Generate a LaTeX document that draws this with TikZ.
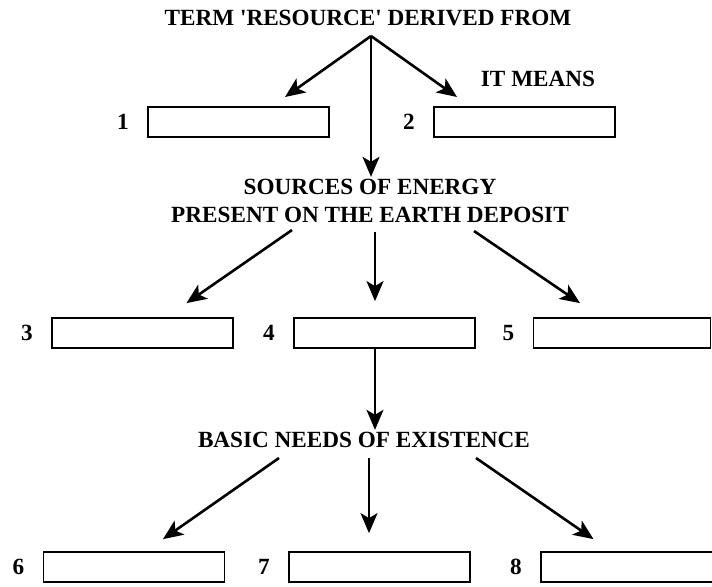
\documentclass[tikz,border=0pt]{standalone}
\usepackage{fontspec}
\setmainfont{Liberation Serif}
\usetikzlibrary{arrows.meta,positioning}

\begin{document}
\begin{tikzpicture}[x=0.5pt, y=-0.5pt,
  lbl/.style={font=\bfseries\fontsize{11.6}{14}\selectfont, align=center, inner sep=1pt},
  blank/.style={draw, line width=0.9pt, minimum width=90.5pt, minimum height=15pt,
                inner sep=0pt},
  num/.style={font=\bfseries\fontsize{11.6}{14}\selectfont, inner sep=0pt},
  arr/.style={-{Stealth[length=10pt, width=8.5pt, inset=2.5pt]}, line width=1.3pt},
  varr/.style={arr, line width=0.9pt}
]
\useasboundingbox (0,0) rectangle (712,586);

%% Top level
\node[lbl] (term)  at (368,18)  {TERM \textquotesingle RESOURCE\textquotesingle\ DERIVED FROM};
\node[lbl] (means) at (538,79)  {IT MEANS};
\coordinate (apex) at (371,36);

\node[blank] (box1) at (238.5,122) {};
\node[blank] (box2) at (524.5,122) {};
\node[num, left=9pt of box1] (n1) {1};
\node[num, left=9pt of box2] (n2) {2};

\coordinate (tip1) at (285,97);
\coordinate (tip2) at (457,97);
\draw[arr] (apex) -- (tip1);
\draw[arr] (apex) -- (tip2);

%% Sources of energy
\node[lbl] (src) at (370,201) {SOURCES OF ENERGY\\PRESENT ON THE EARTH DEPOSIT};
\draw[varr] (apex) -- (src.north -| apex);

\coordinate (s1) at (292,230);
\coordinate (s2) at (375,232);
\coordinate (s3) at (474,231);
\node[blank] (box3) at (142.5,333) {};
\node[blank] (box4) at (384.5,333) {};
\node[blank, minimum width=88.5pt] (box5) at (622,333) {};
\node[num, left=9pt of box3] (n3) {3};
\node[num, left=9pt of box4] (n4) {4};
\node[num, left=9pt of box5] (n5) {5};

\draw[arr]  (s1) -- ([xshift=22pt,yshift=7pt]box3.north);
\draw[varr] (s2) -- ([xshift=-4.75pt,yshift=8pt]box4.north);
\draw[arr]  (s3) -- ([xshift=-21pt,yshift=7pt]box5.north);

%% Basic needs
\node[lbl] (needs) at (364,440) {BASIC NEEDS OF EXISTENCE};
\draw[varr] ([xshift=-4.75pt]box4.south) -- ([xshift=-4.75pt]box4.south |- needs.north);

\coordinate (b1) at (279,458);
\coordinate (b2) at (369,458);
\coordinate (b3) at (476,458);
\node[blank] (box6) at (134,567) {};
\node[blank] (box7) at (379.5,567) {};
\node[blank] (box8) at (631.5,567) {};
\node[num, left=9pt of box6] (n6) {6};
\node[num, left=9pt of box7] (n7) {7};
\node[num, left=9pt of box8] (n8) {8};

\draw[arr]  (b1) -- ([xshift=14.5pt,yshift=6pt]box6.north);
\draw[varr] (b2) -- ([xshift=-5.25pt,yshift=9pt]box7.north);
\draw[arr]  (b3) -- ([xshift=-19pt,yshift=6pt]box8.north);
\end{tikzpicture}
\end{document}
